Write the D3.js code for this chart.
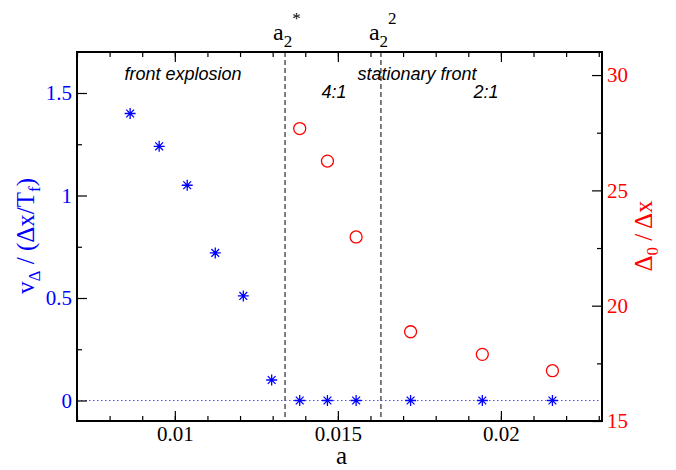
<!DOCTYPE html>
<html>
  <head>
    <title>front velocity and width</title>
  </head>
  <body style="margin:0">
    <svg width="676" height="470" font-family="Liberation Serif"></svg>

    <script src="https://d3js.org/d3.v7.min.js"></script>
    <script>

      // v_delta (left axis, stars)
      var aStar = [0.00863, 0.00952, 0.01038, 0.01124, 0.0121, 0.01297, 0.01383, 0.01468, 0.01556, 0.01723, 0.01943, 0.02158];
      var vDelta = [1.40, 1.24, 1.05, 0.72, 0.51, 0.10, 0, 0, 0, 0, 0, 0];

      // delta_0 (right axis, circles)
      var aCircle = [0.01383, 0.01468, 0.01556, 0.01723, 0.01943, 0.02158];
      var delta0 = [27.68, 26.27, 22.98, 18.87, 17.89, 17.18];

      // critical values of a (dashed lines)
      var aCrit = [0.01338, 0.01632];
      var critSup = ["*", "2"];

      var xTicks = [0.01, 0.015, 0.02];
      var xMinor = d3.range(7, 24).map(function (d) { return d / 1000; });
      var yTicks = [0, 0.5, 1, 1.5];
      var yMinor = [0.25, 0.75, 1.25];
      var y2Ticks = [15, 20, 25, 30];
      var y2Minor = [17.5, 22.5, 27.5];

      var serif = "Liberation Serif";
      var sans = "Liberation Sans";

      var svg = d3.select("svg"),
        margin = { top: 52, right: 74, bottom: 49, left: 77 },
        width = +svg.attr("width"),
        height = +svg.attr("height");

      var x = d3.scaleLinear()
        .domain([0.007, 0.0231])
        .range([margin.left, width - margin.right]);

      var y = d3.scaleLinear()
        .domain([-0.1, 1.7])
        .range([height - margin.bottom, margin.top]);

      var y2 = d3.scaleLinear()
        .domain([15, 31])
        .range([height - margin.bottom, margin.top]);

      var blue = "#0000ff", red = "#ff0000";

      // zero line
      svg.append("line")
        .attr("x1", x.range()[0]).attr("x2", x.range()[1])
        .attr("y1", y(0)).attr("y2", y(0))
        .attr("stroke", "#5555ff")
        .attr("stroke-width", 1)
        .attr("stroke-dasharray", "1.5,2.5");

      // dashed lines at critical a
      svg.append("g")
        .selectAll("line")
        .data(aCrit)
        .enter().append("line")
        .attr("x1", function (d) { return x(d); })
        .attr("x2", function (d) { return x(d); })
        .attr("y1", margin.top)
        .attr("y2", height - margin.bottom)
        .attr("stroke", "#555")
        .attr("stroke-width", 1.5)
        .attr("stroke-dasharray", "5,3");

      // axes (ticks inside)
      function axis(gen, tr, size, values, fmt, color) {
        var g = svg.append("g")
          .attr("transform", tr)
          .call(gen.tickValues(values).tickSize(size).tickPadding(5).tickFormat(fmt));
        g.attr("font-family", serif).attr("font-size", 21);
        g.select(".domain").remove();
        g.selectAll("line").attr("stroke", "#000").attr("stroke-width", 1.2);
        g.selectAll("text")
          .attr("font-family", serif)
          .attr("font-size", 21)
          .attr("fill", color || "#000");
        return g;
      }

      var none = function () { return ""; };
      var atBottom = "translate(0," + (height - margin.bottom) + ")";
      var atTop = "translate(0," + margin.top + ")";
      var atLeft = "translate(" + margin.left + ",0)";
      var atRight = "translate(" + (width - margin.right) + ",0)";

      axis(d3.axisBottom(x), atBottom, -5, xMinor, none);
      axis(d3.axisBottom(x), atBottom, -10, xTicks, function (d) { return String(d); });
      axis(d3.axisTop(x), atTop, -5, xMinor, none);
      axis(d3.axisTop(x), atTop, -10, xTicks, none);

      axis(d3.axisLeft(y), atLeft, -5, yMinor, none);
      axis(d3.axisLeft(y), atLeft, -10, yTicks, function (d) { return String(d); }, blue);

      axis(d3.axisRight(y2), atRight, -5, y2Minor, none);
      axis(d3.axisRight(y2), atRight, -10, y2Ticks, function (d) { return String(d); }, red);

      // frame
      svg.append("rect")
        .attr("x", margin.left)
        .attr("y", margin.top)
        .attr("width", width - margin.left - margin.right)
        .attr("height", height - margin.top - margin.bottom)
        .attr("fill", "none")
        .attr("stroke", "#000")
        .attr("stroke-width", 2);

      // stars
      var star = "M0,-5.5L0,5.5M-5.5,0L5.5,0M-3.9,-3.9L3.9,3.9M-3.9,3.9L3.9,-3.9";
      svg.append("g")
        .selectAll("path")
        .data(aStar)
        .enter().append("path")
        .attr("d", star)
        .attr("transform", function (d, i) { return "translate(" + x(d) + "," + y(vDelta[i]) + ")"; })
        .attr("stroke", blue)
        .attr("stroke-width", 1.3)
        .attr("fill", "none");

      // circles
      svg.append("g")
        .selectAll("circle")
        .data(aCircle)
        .enter().append("circle")
        .attr("cx", function (d) { return x(d); })
        .attr("cy", function (d, i) { return y2(delta0[i]); })
        .attr("r", 6)
        .attr("fill", "none")
        .attr("stroke", red)
        .attr("stroke-width", 1.3);

      // labels a_2^* and a_2^2
      aCrit.forEach(function (d, i) {
        var t = svg.append("text")
          .attr("x", x(d) - 12)
          .attr("y", 40)
          .attr("font-family", serif)
          .attr("font-size", 24);
        t.append("tspan").text("a");
        t.append("tspan").attr("font-size", 17).attr("dy", 7).text("2");
        t.append("tspan").attr("font-size", 17).attr("dy", -23).text(critSup[i]);
      });

      // annotations
      function note(tx, ty, s) {
        svg.append("text")
          .attr("x", tx).attr("y", ty)
          .attr("text-anchor", "middle")
          .attr("font-family", sans)
          .attr("font-style", "italic")
          .attr("font-size", 18)
          .text(s);
      }
      note(183, 80, "front explosion");
      note(417, 80, "stationary front");
      note(334, 98, "4:1");
      note(486, 98, "2:1");

      // axis titles
      svg.append("text")
        .attr("x", (margin.left + width - margin.right) / 2 + 2)
        .attr("y", 464)
        .attr("text-anchor", "middle")
        .attr("font-family", serif)
        .attr("font-size", 25)
        .text("a");

      var yl = svg.append("text")
        .attr("transform", "translate(34,236) rotate(-90)")
        .attr("text-anchor", "middle")
        .attr("font-family", serif)
        .attr("font-size", 25)
        .attr("fill", blue);
      yl.append("tspan").text("v");
      yl.append("tspan").attr("font-size", 17).attr("dy", 6).text("\u0394");
      yl.append("tspan").attr("dy", -6).text(" / (\u0394x/T");
      yl.append("tspan").attr("font-size", 17).attr("dy", 6).text("f");
      yl.append("tspan").attr("dy", -6).text(")");

      var y2l = svg.append("text")
        .attr("transform", "translate(652,236) rotate(-90)")
        .attr("text-anchor", "middle")
        .attr("font-family", serif)
        .attr("font-size", 25)
        .attr("fill", red);
      y2l.append("tspan").text("\u0394");
      y2l.append("tspan").attr("font-size", 17).attr("dy", 6).text("0");
      y2l.append("tspan").attr("dy", -6).text(" / \u0394x");

    </script>
  </body>
</html>
